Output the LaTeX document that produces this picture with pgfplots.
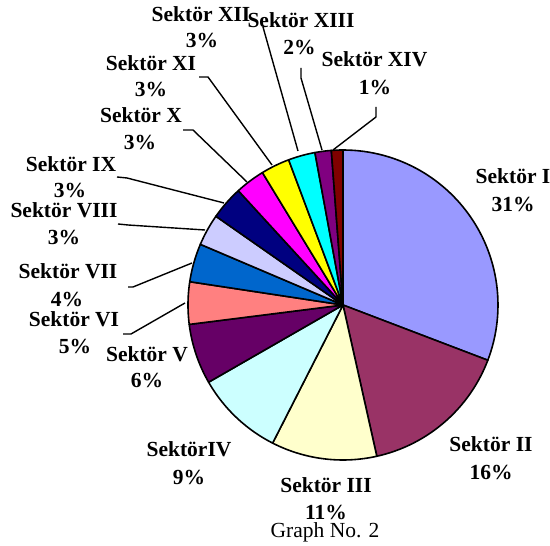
\documentclass[border=0pt]{standalone}
\usepackage{fontspec}
\setmainfont{Liberation Serif}
\usepackage{pgfplots}
\usepackage{pgfplotstable}
\pgfplotsset{compat=1.18}
\definecolor{secI}{HTML}{9999FF}
\definecolor{secII}{HTML}{993366}
\definecolor{secIII}{HTML}{FFFFCC}
\definecolor{secIV}{HTML}{CCFFFF}
\definecolor{secV}{HTML}{660066}
\definecolor{secVI}{HTML}{FF8080}
\definecolor{secVII}{HTML}{0066CC}
\definecolor{secVIII}{HTML}{CCCCFF}
\definecolor{secIX}{HTML}{000080}
\definecolor{secX}{HTML}{FF00FF}
\definecolor{secXI}{HTML}{FFFF00}
\definecolor{secXII}{HTML}{00FFFF}
\definecolor{secXIII}{HTML}{800080}
\definecolor{secXIV}{HTML}{800000}
\pgfplotstableread{
name value color
I 30.8 secI
II 15.7 secII
III 11.0 secIII
IV 9.2 secIV
V 6.3 secV
VI 4.4 secVI
VII 4.0 secVII
VIII 3.3 secVIII
IX 3.5 secIX
X 3.1 secX
XI 3.0 secXI
XII 2.8 secXII
XIII 1.7 secXIII
XIV 1.2 secXIV
}\piedata
\begin{document}
\begin{tikzpicture}
\begin{axis}[width=550pt,height=546pt,scale only axis,
  xmin=0,xmax=550,ymin=0,ymax=546,hide axis,clip=false]
\pgfplotstablegetrowsof{\piedata}
\pgfmathtruncatemacro\N{\pgfplotsretval-1}
\def\cum{0}
\pgfplotsforeachungrouped \i in {0,...,\N}{%
  \pgfplotstablegetelem{\i}{value}\of\piedata \let\v\pgfplotsretval
  \pgfplotstablegetelem{\i}{color}\of\piedata \let\c\pgfplotsretval
  \pgfmathsetmacro\a{90-3.6*\cum}%
  \pgfmathsetmacro\b{90-3.6*(\cum+\v)}%
  \edef\temp{\noexpand\addplot[fill=\c, draw=black, line width=1.6pt, line join=round, domain=\b:\a, samples=60, variable=\noexpand\t] ({343+155*cos(\noexpand\t)},{241+155*sin(\noexpand\t)}) -- (axis cs:343,241) -- cycle;}%
  \temp
  \pgfmathsetmacro\cum{\cum+\v}%
}
% leader lines
\addplot[black, line width=1.4pt] coordinates {(263,519) (298,395)};
\addplot[black, line width=1.4pt] coordinates {(301,478) (301,468) (322,396)};
\addplot[black, line width=1.4pt] coordinates {(376,439) (376,429) (333,396)};
\addplot[black, line width=1.4pt] coordinates {(199,469) (208,469) (272,381)};
\addplot[black, line width=1.4pt] coordinates {(183,416) (193,416) (247,364)};
\addplot[black, line width=1.4pt] coordinates {(117,369) (127,368) (224,343)};
\addplot[black, line width=1.4pt] coordinates {(118,322) (128,321) (205,316)};
\addplot[black, line width=1.4pt] coordinates {(128,259) (133,259) (192,283)};
\addplot[black, line width=1.4pt] coordinates {(123,212) (131,212) (185,243)};
% labels
\tikzset{lab/.style={anchor=base,inner sep=0pt,font=\fontsize{21.5}{25}\selectfont\bfseries}}
\node[lab] at (axis cs:513,362) {Sektör I};
\node[lab] at (axis cs:513,334) {31\%};
\node[lab] at (axis cs:491,94) {Sektör II};
\node[lab] at (axis cs:491,66) {16\%};
\node[lab] at (axis cs:326,53) {Sektör III};
\node[lab] at (axis cs:326,26) {11\%};
\node[lab] at (axis cs:189,89) {SektörIV};
\node[lab] at (axis cs:189,61) {9\%};
\node[lab] at (axis cs:147,184) {Sektör V};
\node[lab] at (axis cs:147,158) {6\%};
\node[lab] at (axis cs:74,219) {Sektör VI};
\node[lab] at (axis cs:75,192) {5\%};
\node[lab] at (axis cs:68,267) {Sektör VII};
\node[lab] at (axis cs:67,239) {4\%};
\node[lab] at (axis cs:64,328) {Sektör VIII};
\node[lab] at (axis cs:64,301) {3\%};
\node[lab] at (axis cs:71,374) {Sektör IX};
\node[lab] at (axis cs:70,348) {3\%};
\node[lab] at (axis cs:141,423) {Sektör X};
\node[lab] at (axis cs:140,396) {3\%};
\node[lab] at (axis cs:151,475) {Sektör XI};
\node[lab] at (axis cs:151,449) {3\%};
\node[lab] at (axis cs:201,524) {Sektör XII};
\node[lab] at (axis cs:202,498) {3\%};
\node[lab] at (axis cs:301,518) {Sektör XIII};
\node[lab] at (axis cs:299.5,491) {2\%};
\node[lab] at (axis cs:374.5,479) {Sektör XIV};
\node[lab] at (axis cs:375,451) {1\%};
\node[anchor=base,inner sep=0pt,font=\fontsize{21.5}{25}\selectfont] at (axis cs:325,8) {Graph No. 2};
\end{axis}
\pgfresetboundingbox
\useasboundingbox (current axis.south west) rectangle (current axis.north east);
\end{tikzpicture}
\end{document}
